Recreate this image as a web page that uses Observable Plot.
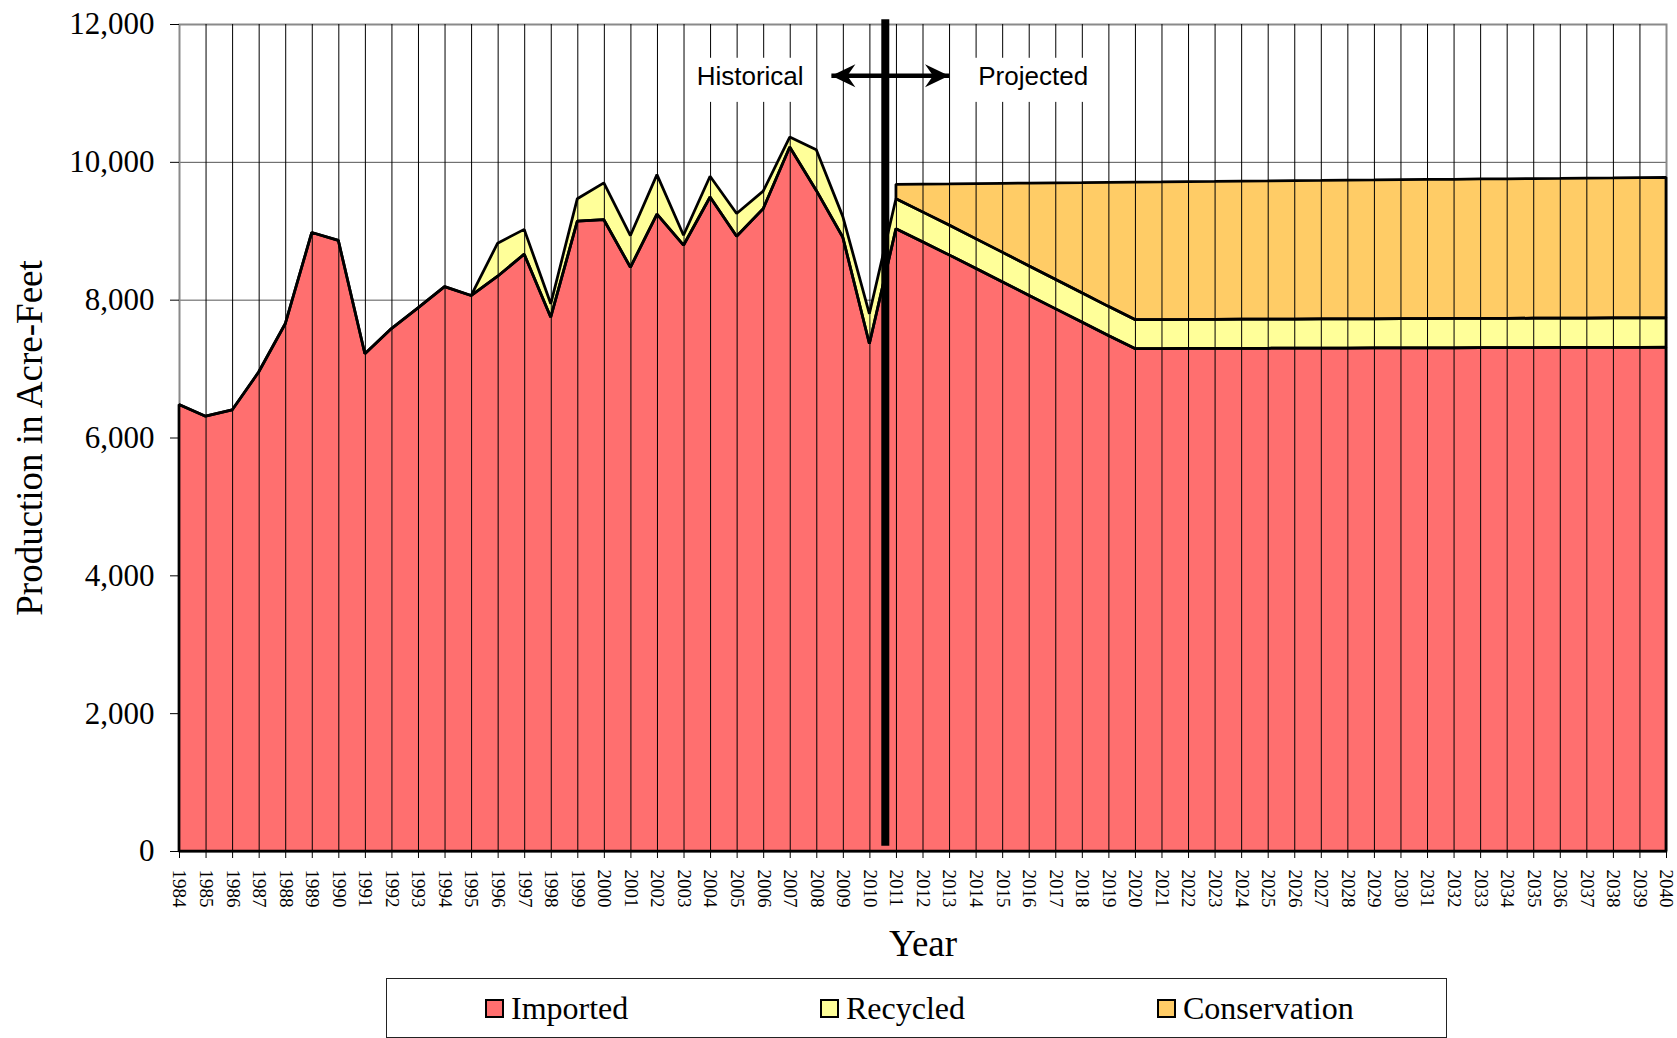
<!DOCTYPE html>
<html>
<head>
<meta charset="utf-8">
<script src="https://cdn.jsdelivr.net/npm/d3@7"></script>
<script src="https://cdn.jsdelivr.net/npm/@observablehq/plot@0.6"></script>
<style>
  body { margin: 0; background: #fff; }
  #wrap { position: relative; width: 1677px; height: 1038px; overflow: hidden; }
  #legend { position: absolute; left: 386px; top: 978px; width: 1061px; height: 60px; border: 1px solid #222; box-sizing: border-box; font-family: "Liberation Serif", serif; font-size: 32px; color: #000; }
  .item { position: absolute; top: 0; height: 58px; display: flex; align-items: center; white-space: nowrap; }
  .sw { width: 15px; height: 15px; border: 2px solid #000; margin-right: 7px; }
</style>
</head>
<body>
<div id="wrap"></div>
<script>
// ---- data ----
const years = [1984,1985,1986,1987,1988,1989,1990,1991,1992,1993,1994,1995,1996,1997,1998,1999,2000,2001,2002,2003,2004,2005,2006,2007,2008,2009,2010,2011,2012,2013,2014,2015,2016,2017,2018,2019,2020,2021,2022,2023,2024,2025,2026,2027,2028,2029,2030,2031,2032,2033,2034,2035,2036,2037,2038,2039,2040];

const imported = [6480,6310,6400,6950,7650,8975,8860,7215,7580,7880,8190,8060,8340,8660,7745,9140,9160,8470,9240,8790,9490,8920,9320,10215,9585,8905,7360,9030,8840,8650,8455,8260,8065,7870,7675,7480,7290,7291,7292,7293,7294,7295,7296,7297,7298,7299,7300,7301,7302,7303,7304,7305,7306,7307,7308,7309,7310];

const recycled = [0,0,0,0,0,0,0,0,0,0,0,0,480,360,195,325,535,460,575,145,300,330,255,145,590,300,435,435,434,432,431,430,428,426,425,423,421,421,421,422,422,422,423,423,423,424,424,424,425,425,425,426,426,426,427,427,427];

// conservation starts in 2011 (projection period)
const conservationYears = [2011,2012,2013,2014,2015,2016,2017,2018,2019,2020,2021,2022,2023,2024,2025,2026,2027,2028,2029,2030,2031,2032,2033,2034,2035,2036,2037,2038,2039,2040];
const conservation = [208,403,598,798,998,1198,1399,1598,1799,1995,1997,2000,2001,2004,2006,2008,2010,2013,2014,2017,2019,2020,2023,2025,2027,2029,2032,2033,2036,2038];

const seriesNames = ["Imported", "Recycled", "Conservation"];
const seriesColors = ["#FF6F6F", "#FFFF99", "#FFCC66"];

const yTicks = [0,2000,4000,6000,8000,10000,12000];
const hGrid = [2000,4000,6000,8000,10000];
const vGrid = years.slice(1, -1);

// annotations (data units)
const dividerYear = [2010.58];
const labels = [
  {text: "Historical", x: 2005.49, y: 11250, x1: 2003.25, x2: 2007.85, y1: 10870, y2: 11510},
  {text: "Projected", x: 2016.15, y: 11250, x1: 2013.6, x2: 2018.75, y1: 10870, y2: 11510}
];
const arrowSpan = [{x1: 2008.55, x2: 2012.98, y: 11256}];
const arrowHeads = [{x: 2008.55, y: 11256, rot: 180}, {x: 2012.98, y: 11256, rot: 0}];

// ---- build tables ----
const rows = years.map((year, i) => ({
  year,
  imported: imported[i],
  recTop: imported[i] + recycled[i]
}));
const consRows = conservationYears.map((year, j) => {
  const i = years.indexOf(year);
  const base = imported[i] + recycled[i];
  return {year, base, total: base + conservation[j]};
});

const stealth = {
  draw(context) {
    const L = 24, W = 11.5, N = 16;
    context.moveTo(0, 0);
    context.lineTo(-L, -W);
    context.lineTo(-N, 0);
    context.lineTo(-L, W);
    context.closePath();
  }
};

const outline = {stroke: "#000", strokeWidth: 2.75, strokeLinejoin: "miter", fill: "none"};

const chart = Plot.plot({
  width: 1677,
  height: 975,
  marginLeft: 179,
  marginRight: 11,
  marginTop: 24,
  marginBottom: 124,
  style: {fontFamily: "Liberation Serif, serif", fontSize: "19px", color: "#000", background: "#fff", overflow: "visible"},
  x: {domain: [1984, 2040]},
  y: {domain: [0, 12000]},
  marks: [
    Plot.ruleY(hGrid, {stroke: "#555", strokeWidth: 1}),
    Plot.frame({stroke: "#8a8a8a", strokeWidth: 2}),
    Plot.areaY(rows, {x: "year", y1: 0, y2: "imported", fill: seriesColors[0]}),
    Plot.areaY(rows, {x: "year", y1: "imported", y2: "recTop", fill: seriesColors[1]}),
    Plot.areaY(consRows, {x: "year", y1: "base", y2: "total", fill: seriesColors[2]}),
    Plot.ruleX(vGrid, {stroke: "#000", strokeWidth: 1}),
    Plot.rect(labels, {x1: "x1", x2: "x2", y1: "y1", y2: "y2", fill: "#fff"}),
    Plot.areaY(rows, {x: "year", y1: 0, y2: "imported", ...outline}),
    Plot.areaY(rows, {x: "year", y1: "imported", y2: "recTop", ...outline}),
    Plot.areaY(consRows, {x: "year", y1: "base", y2: "total", ...outline}),
    Plot.axisY({ticks: yTicks, tickFormat: d3.format(","), tickSize: 9, tickPadding: 16, fontSize: 31, label: null}),
    Plot.axisX({ticks: years, tickFormat: d => String(d), tickSize: 7, tickPadding: 11, tickRotate: 90, textAnchor: "start", lineAnchor: "middle", fontSize: 19, label: null}),
    Plot.text(["Production in Acre-Feet"], {text: d => d, frameAnchor: "left", textAnchor: "middle", lineAnchor: "middle", dx: -149, rotate: -90, fontSize: 37}),
    Plot.text(["Year"], {text: d => d, frameAnchor: "bottom", textAnchor: "middle", lineAnchor: "middle", dy: 93, fontSize: 37}),
    Plot.text(labels, {x: "x", y: "y", text: "text", fontFamily: "Liberation Sans, Arial, sans-serif", fontSize: 26}),
    Plot.link(arrowSpan, {x1: "x1", x2: "x2", y1: "y", y2: "y", stroke: "#000", strokeWidth: 4.5}),
    Plot.dot(arrowHeads, {x: "x", y: "y", rotate: "rot", symbol: stealth, r: 10, fill: "#000", stroke: "none"}),
    Plot.ruleX(dividerYear, {y1: 12070, y2: 75, stroke: "#000", strokeWidth: 8})
  ]
});

const wrap = document.getElementById("wrap");
wrap.appendChild(chart);

// legend
const legend = document.createElement("div");
legend.id = "legend";
const offsets = [98, 433, 770];
seriesNames.forEach((name, i) => {
  const item = document.createElement("div");
  item.className = "item";
  item.style.left = offsets[i] + "px";
  const sw = document.createElement("span");
  sw.className = "sw";
  sw.style.background = seriesColors[i];
  const t = document.createElement("span");
  t.textContent = name;
  item.appendChild(sw);
  item.appendChild(t);
  legend.appendChild(item);
});
wrap.appendChild(legend);
</script>
</body>
</html>
